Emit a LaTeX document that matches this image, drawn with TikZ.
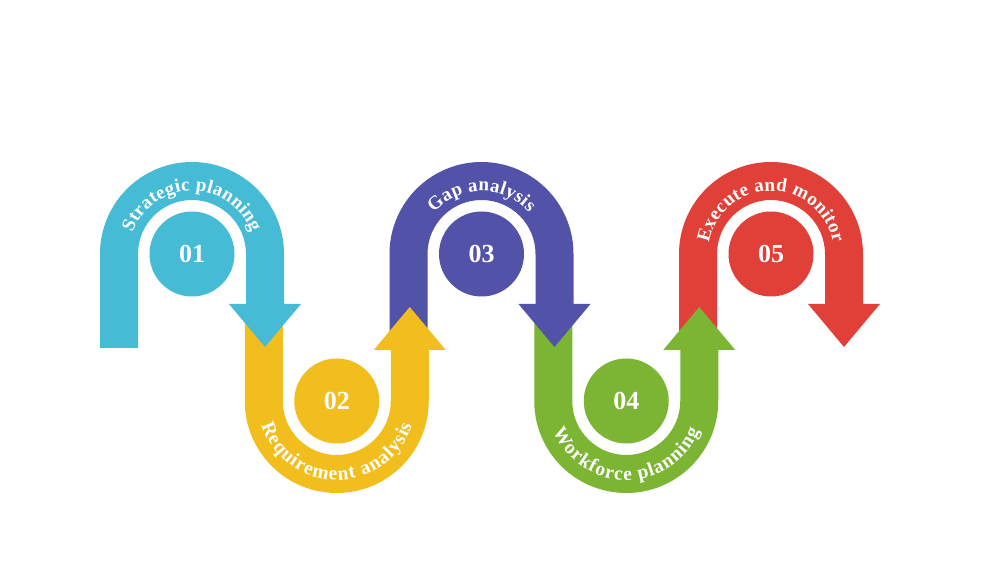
\documentclass[tikz,border=0pt]{standalone}
\usepackage{fontspec}
\setmainfont{Liberation Serif}
\usetikzlibrary{decorations.text}

\definecolor{stepcyan}{RGB}{69,187,214}
\definecolor{stepyellow}{RGB}{242,190,30}
\definecolor{steppurple}{RGB}{81,82,168}
\definecolor{stepgreen}{RGB}{124,181,52}
\definecolor{stepred}{RGB}{224,64,56}

\begin{document}
\begin{tikzpicture}[
    x=1pt, y=1pt,
    % Node and label styles
    num_circle/.style={circle, minimum size=85pt, inner sep=0pt, text=white,
        font=\fontsize{26}{26}\selectfont\bfseries},
    arc_label/.style={decorate, decoration={text effects along path, text={#1}, text align=center,
        text effects/.cd,
        characters={text along path, text=white, font=\fontsize{19}{19}\selectfont\bfseries},
        character widths={inner xsep=0.15pt, font=\fontsize{19}{19}\selectfont\bfseries}}},
    arc_label_low/.style={decorate, decoration={text effects along path, text={#1}, text align=center,
        text effects/.cd,
        characters={text along path, text=white, font=\fontsize{19.5}{19.5}\selectfont\bfseries},
        character widths={inner xsep=0.5pt, font=\fontsize{19.5}{19.5}\selectfont\bfseries}}}
]
\fill[white] (0,0) rectangle (997,567);
\useasboundingbox (0,0) rectangle (997,567);

% --- STEP 05 (top, red) --- drawn first, the next arrow lies over it
\begin{scope}[shift={(771,313)}]
  \fill[stepred] (-92,-94) -- (-92,0) arc[start angle=180, end angle=0, radius=92]
    -- (92,-50) -- (109,-50) -- (73,-93) -- (37,-50) -- (54,-50) -- (54,0)
    arc[start angle=0, end angle=180, radius=54] -- (-54,-94) -- cycle;
  \node[num_circle, fill=stepred] (step5) at (0,0) {05};
  \path[arc_label={Execute and monitor}] (-63,0) arc[start angle=180, end angle=0, radius=63];
\end{scope}

% --- STEP 04 (bottom, green) ---
\begin{scope}[shift={(626.25,166)}]
  \fill[stepgreen] (-92,97) -- (-92,0) arc[start angle=180, end angle=360, radius=92]
    -- (92,51) -- (109,51) -- (73,94) -- (37,51) -- (54,51) -- (54,0)
    arc[start angle=360, end angle=180, radius=54] -- (-54,97) -- cycle;
  \node[num_circle, fill=stepgreen] (step4) at (0,0) {04};
  \path[arc_label_low={Workforce planning}] (-79,0) arc[start angle=180, end angle=360, radius=79];
\end{scope}

% --- STEP 03 (top, purple) ---
\begin{scope}[shift={(481.5,313)}]
  \fill[steppurple] (-92,-94) -- (-92,0) arc[start angle=180, end angle=0, radius=92]
    -- (92,-50) -- (109,-50) -- (73,-93) -- (37,-50) -- (54,-50) -- (54,0)
    arc[start angle=0, end angle=180, radius=54] -- (-54,-94) -- cycle;
  \node[num_circle, fill=steppurple] (step3) at (0,0) {03};
  \path[arc_label={Gap analysis}] (-63,0) arc[start angle=180, end angle=0, radius=63];
\end{scope}

% --- STEP 02 (bottom, yellow) ---
\begin{scope}[shift={(336.75,166)}]
  \fill[stepyellow] (-92,97) -- (-92,0) arc[start angle=180, end angle=360, radius=92]
    -- (92,51) -- (109,51) -- (73,94) -- (37,51) -- (54,51) -- (54,0)
    arc[start angle=360, end angle=180, radius=54] -- (-54,97) -- cycle;
  \node[num_circle, fill=stepyellow] (step2) at (0,0) {02};
  \path[arc_label_low={Requirement analysis}] (-79,0) arc[start angle=180, end angle=360, radius=79];
\end{scope}

% --- STEP 01 (top, cyan) --- drawn last, its arrow lies over step 02
\begin{scope}[shift={(192,313)}]
  \fill[stepcyan] (-92,-94) -- (-92,0) arc[start angle=180, end angle=0, radius=92]
    -- (92,-50) -- (109,-50) -- (73,-93) -- (37,-50) -- (54,-50) -- (54,0)
    arc[start angle=0, end angle=180, radius=54] -- (-54,-94) -- cycle;
  \node[num_circle, fill=stepcyan] (step1) at (0,0) {01};
  \path[arc_label={Strategic planning}] (-63,0) arc[start angle=180, end angle=0, radius=63];
\end{scope}

\end{tikzpicture}
\end{document}
